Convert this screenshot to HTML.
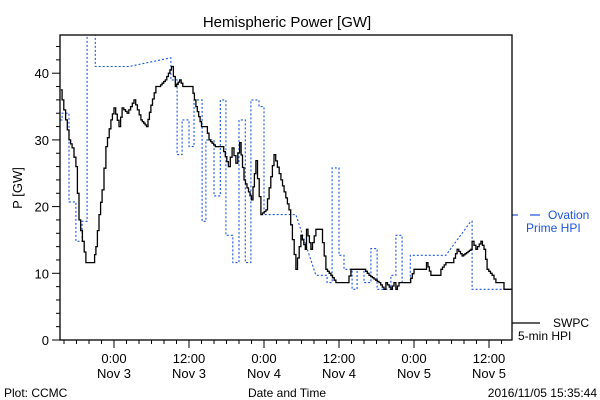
<!DOCTYPE html>
<html><head><meta charset="utf-8"><style>
html,body{margin:0;padding:0;background:#fff;width:600px;height:400px;overflow:hidden}
svg{display:block;font-family:"Liberation Sans",sans-serif}
</style></head><body>
<svg id="chart" width="600" height="400" xmlns="http://www.w3.org/2000/svg">
<text x="287" y="27" font-size="15" text-anchor="middle">Hemispheric Power [GW]</text>
<text x="22" y="188" font-size="13" text-anchor="middle" transform="rotate(-90 22 188)">P [GW]</text>
<text x="4" y="397" font-size="12">Plot: CCMC</text>
<text x="287" y="397" font-size="12" text-anchor="middle">Date and Time</text>
<text x="597" y="397" font-size="12" text-anchor="end">2016/11/05 15:35:44</text>
<g>
<line x1="512" y1="215" x2="518" y2="215" stroke="#1a55e0" stroke-width="1.2"/>
<line x1="530" y1="215" x2="540" y2="215" stroke="#1a55e0" stroke-width="1.2"/>
<text x="548" y="219" font-size="12" fill="#1a55e0">Ovation</text>
<text x="526" y="232" font-size="12" fill="#1a55e0">Prime HPI</text>
</g>
<g>
<line x1="512" y1="323" x2="540" y2="323" stroke="#000" stroke-width="1.2"/>
<text x="553" y="327" font-size="12">SWPC</text>
<text x="518" y="340" font-size="12">5-min HPI</text>
</g>
<g id="plot"></g>
</svg>
<script>
// hours relative to Nov 3 00:00 UT
const yTicks = [0, 10, 20, 30, 40];
const xTickHours = [0, 12, 24, 36, 48, 60];
const xTickTimes = ["0:00", "12:00", "0:00", "12:00", "0:00", "12:00"];
const xTickDates = ["Nov 3", "Nov 3", "Nov 4", "Nov 4", "Nov 5", "Nov 5"];
const swpcT = [-8.5,-8.3,-7.2,-6.7,-6.1,-5.6,-4.5,-3.3,-2.9,-2.4,-1.9,-1.3,-0.5,0,0.8,1.3,2.1,3.2,4.3,5.2,5.9,6.7,7.2,8.2,9.2,9.8,10.5,11.0,12.4,13.1,14.0,14.7,15.2,16.2,17.3,18.3,18.9,19.5,20.1,20.8,22.0,22.7,23.5,24.3,25.6,26.7,28.0,29.1,29.9,30.6,30.8,31.5,32.3,33.1,33.9,34.7,35.5,37.3,37.9,40.0,40.8,42.4,43.2,43.5,44.3,44.8,45.1,45.6,47.2,48.0,49.9,50.0,50.7,52.0,52.3,53.1,54.1,54.9,55.7,57.1,57.3,57.9,58.7,59.2,59.7,60.5,61.1,62.1,62.4,63.7];
const swpcV = [37.5,36,30,28.8,26,18,11.6,11.6,14,18.8,22.5,29,33,34.8,32,34.8,34,36,33,32,35.2,38,38,39,41,38,39,38,38,35,32,32,30,29,29,26,28.8,26.5,29.6,24,21,26.9,18.8,19.5,27.8,24,19.5,10.6,15.7,13.6,16.6,13.6,16.6,16.6,10.6,9.7,8.6,8.6,10.6,10.6,9.7,8.6,7.6,8.6,7.6,8.6,7.6,8.6,8.6,10.6,10.6,11.6,9.7,9.7,10.6,11.6,11.6,13.6,12.6,13.6,14.8,13.6,14.8,13.6,10.6,9.7,8.6,8.6,7.6,7.6];
const ovT = [-8.6,-8.3,-8.3,-7.2,-7.2,-6.1,-6.1,-5.1,-5.1,-4.3,-4.3,-3.0,-3.0,2.4,9.0,9.1,9.1,10.1,10.1,10.9,10.9,12.0,12.0,12.8,12.8,14.1,14.1,14.7,14.7,16.0,16.0,17.0,17.0,17.9,17.9,19.0,19.0,20.0,20.0,21.0,21.0,21.9,21.9,23.2,23.2,24.0,24.0,29.1,32.3,34.1,34.1,34.9,34.9,36.0,36.0,36.8,36.8,38.1,38.1,38.9,38.9,40.0,40.0,41.1,41.1,42.1,42.1,44.3,44.3,45.1,45.1,46.1,46.1,47.4,47.4,53.1,57.1,57.3,57.3,63.7];
const ovV = [33,33,34,34,20.7,20.7,14.8,14.8,17.8,17.8,47,47,41,41,42.3,42.3,39,39,27.8,27.8,33,33,29,29,36,36,17.8,17.8,30,30,21.6,21.6,36,36,15.7,15.7,11.6,11.6,33,33,11.6,11.6,36,36,35,35,18.8,18.8,9.7,9.7,8.6,8.6,25.8,25.8,12.7,12.7,10.6,10.6,7.6,7.6,10.6,10.6,8.6,8.6,13.7,13.7,7.6,7.6,9.7,9.7,15.7,15.7,8.6,8.6,12.7,12.7,17.8,17.8,7.6,7.6];

const L=60,R=512,T=35,B=340;
const tMin=(L-114)/6.25, tMax=(R-114)/6.25;
const yMax=(B-T)/6.67;
const sx=t=>L+(t-tMin)/(tMax-tMin)*(R-L);
const sy=v=>B-v/yMax*(B-T);
const NS="http://www.w3.org/2000/svg";
const g=document.getElementById('plot');
function mk(tag,attrs){const e=document.createElementNS(NS,tag);for(const k in attrs)e.setAttribute(k,attrs[k]);g.appendChild(e);return e;}

const clip=document.createElementNS(NS,'clipPath');clip.setAttribute('id','pc');
const cr=document.createElementNS(NS,'rect');cr.setAttribute('x',L);cr.setAttribute('y',T);cr.setAttribute('width',R-L);cr.setAttribute('height',B-T);clip.appendChild(cr);g.appendChild(clip);

const n=Math.min(ovT.length,ovV.length);
const ovPts=[];for(let i=0;i<n;i++)ovPts.push(sx(ovT[i]).toFixed(1)+','+sy(ovV[i]).toFixed(1));
const ov=mk('polyline',{points:ovPts.join(' '),fill:'none',stroke:'#1a55e0','stroke-width':'1.1','stroke-dasharray':'2,2','clip-path':'url(#pc)'});



// SWPC drawn with small steps to mimic 5-min staircase
const swPts=[];
for(let i=0;i<swpcT.length;i++){
  if(i>0){
    const t0=swpcT[i-1],t1=swpcT[i],v0=swpcV[i-1],v1=swpcV[i];
    const steps=Math.max(1,Math.round((t1-t0)/0.25));
    for(let k=1;k<steps;k++){
      const tt=t0+(t1-t0)*k/steps, vv=v0+(v1-v0)*(k-1)/steps, vn=v0+(v1-v0)*k/steps;
      swPts.push(sx(tt).toFixed(1)+','+sy(vv).toFixed(1));
      swPts.push(sx(tt).toFixed(1)+','+sy(vn).toFixed(1));
    }
    swPts.push(sx(t1).toFixed(1)+','+sy(v0+(v1-v0)*(steps-1)/steps).toFixed(1));
  }
  swPts.push(sx(swpcT[i]).toFixed(1)+','+sy(swpcV[i]).toFixed(1));
}
const sw=mk('polyline',{points:swPts.join(' '),fill:'none',stroke:'#000','stroke-width':'1.3','clip-path':'url(#pc)'});



const frame=mk('rect',{x:L,y:T,width:R-L,height:B-T,fill:'none',stroke:'#000','stroke-width':'1.3'});



for(let v=0;v<=yMax;v+=2){
  const major=v%10===0;
  const tk=mk('line',{x1:L-(major?8:4),x2:L,y1:sy(v),y2:sy(v),stroke:'#000','stroke-width':'1'});
  
  
}
yTicks.forEach(v=>{
  const t=mk('text',{x:L-11,y:sy(v)+5,'font-size':'13','text-anchor':'end'});
  t.textContent=v;
  
  
});
for(let h=-8;h<=tMax;h+=2){
  if(h<tMin)continue;
  const major=h%12===0;
  const tk=mk('line',{x1:sx(h),x2:sx(h),y1:B,y2:B+(major?8:4),stroke:'#000','stroke-width':'1'});
  
  
}
xTickHours.forEach((h,i)=>{
  const a=mk('text',{x:sx(h),y:B+23,'font-size':'13','text-anchor':'middle'});
  a.textContent=xTickTimes[i];
  
  
  const b=mk('text',{x:sx(h),y:B+38,'font-size':'13','text-anchor':'middle'});
  b.textContent=xTickDates[i];
  
  
});
</script>
</body></html>
